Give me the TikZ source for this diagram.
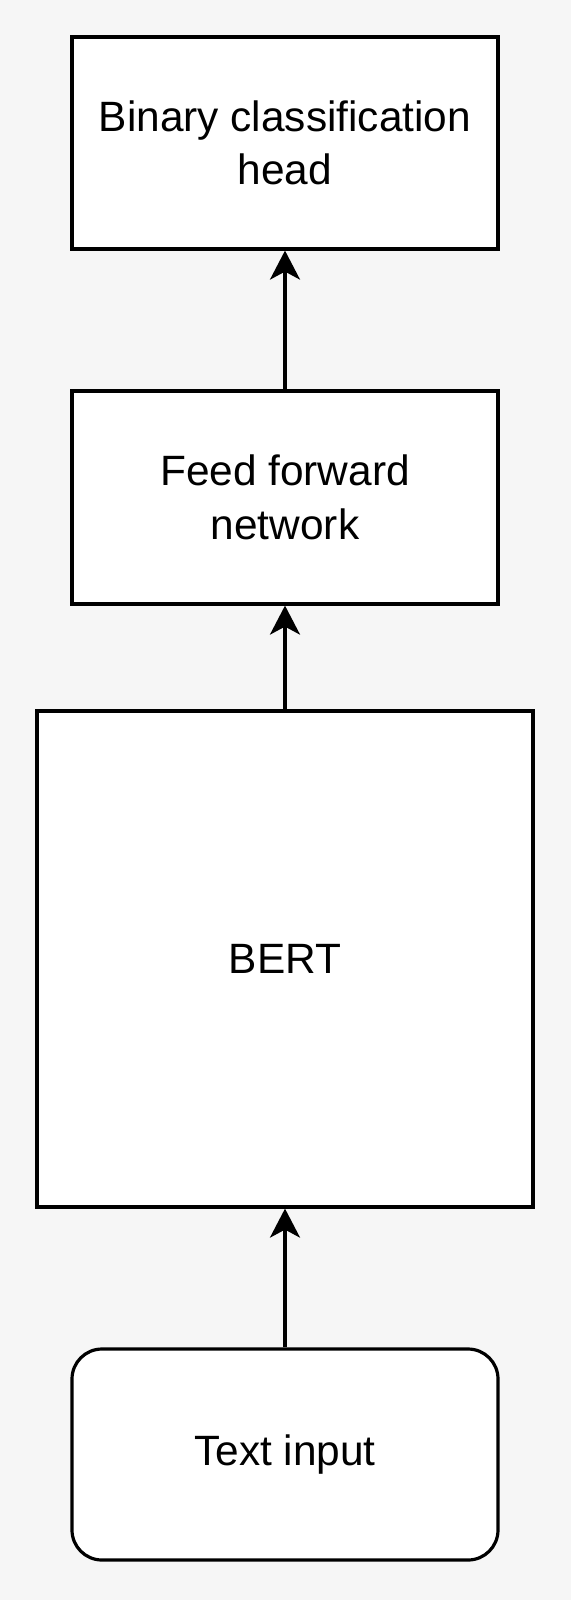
\documentclass[tikz,border=0pt]{standalone}
\usepackage{fontspec}
\setmainfont{Liberation Sans}
\usetikzlibrary{arrows.meta}
\definecolor{bgcol}{HTML}{F6F6F6}
\begin{document}
\begin{tikzpicture}[x=0.5pt,y=-0.5pt,
  box/.style={draw=black, fill=white, line width=1.6pt, align=center,
    font=\fontsize{21.2}{26.8}\selectfont, inner sep=0pt},
  conn/.style={line width=1.6pt, -{Stealth[length=14.5pt,width=15pt,inset=4pt]}}]
\fill[bgcol] (0,0) rectangle (571,1600);
\useasboundingbox (0,0) rectangle (571,1600);
\node[box, minimum width=213pt, minimum height=106pt] (head) at (285,143) {Binary classification\\head};
\node[box, minimum width=213pt, minimum height=106.5pt] (ffn) at (285,497.5) {Feed forward\\network};
\node[box, minimum width=248pt, minimum height=248pt] (bert) at (285,959) {BERT};
\node[box, minimum width=213pt, minimum height=105.5pt, rounded corners=15pt] (input) at (285,1454.5) {Text input};
\draw[conn] (input.north) -- (bert.south);
\draw[conn] (bert.north) -- (ffn.south);
\draw[conn] (ffn.north) -- (head.south);
\end{tikzpicture}
\end{document}
